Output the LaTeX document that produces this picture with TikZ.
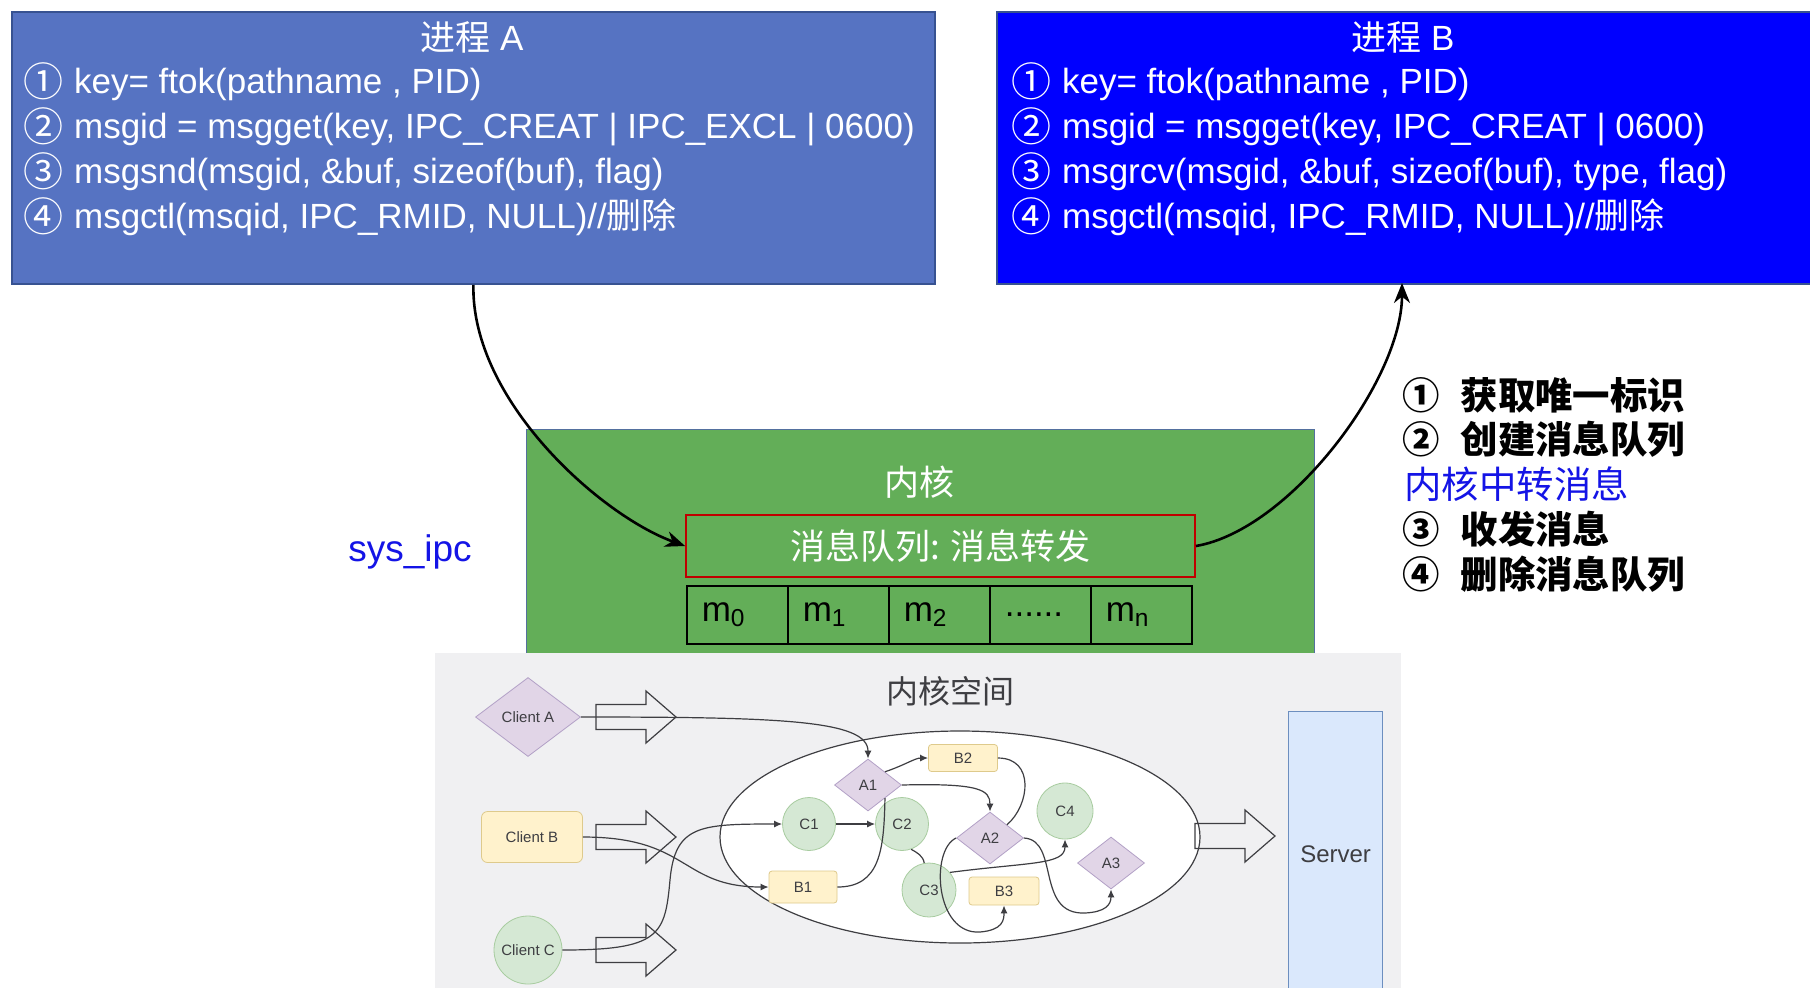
\documentclass[tikz,border=0pt]{standalone}
\usepackage{fontspec}
\setmainfont{Liberation Sans}
\newfontfamily\cjk{Noto Sans CJK SC}
\usetikzlibrary{arrows.meta,shapes.geometric,positioning}

\definecolor{procA}{RGB}{86,115,194}
\definecolor{procAedge}{RGB}{55,82,145}
\definecolor{procB}{RGB}{0,0,255}
\definecolor{kgreen}{RGB}{99,174,88}
\definecolor{kedge}{RGB}{84,112,158}
\definecolor{qred}{RGB}{192,0,0}
\definecolor{shotbg}{RGB}{240,240,242}
\definecolor{dpurple}{RGB}{225,213,231}
\definecolor{dpurpleedge}{RGB}{178,160,198}
\definecolor{dyellow}{RGB}{255,242,204}
\definecolor{dyellowedge}{RGB}{222,202,140}
\definecolor{dgreen}{RGB}{213,232,212}
\definecolor{dgreenedge}{RGB}{168,204,160}
\definecolor{dblue}{RGB}{218,232,252}
\definecolor{dblueedge}{RGB}{108,142,191}
\definecolor{dtext}{RGB}{62,62,66}
\definecolor{ipcblue}{RGB}{20,20,230}

\newcommand\qdots{......}
\newcommand\cnum[1]{\raisebox{-1.5pt}{\cjk\fontsize{20}{20}\selectfont #1}\hspace{0.5pt}}

\tikzset{
  procbox/.style={draw=procAedge, line width=0.9pt, minimum height=136pt, anchor=north west, inner sep=0pt},
  boxtitle/.style={anchor=base, text=white, inner sep=0pt, font=\fontsize{17.5}{20}\selectfont},
  boxline/.style={anchor=base west, text=white, inner sep=0pt, font=\fontsize{17.5}{20}\selectfont},
  qcell/.style={draw=black, line width=0.8pt, minimum width=50.5pt, minimum height=29pt, text width=35.5pt, inner xsep=7.5pt, align=left, anchor=north west, font=\fontsize{17.5}{20}\selectfont},
  listline/.style={anchor=base west, inner sep=0pt, font=\cjk\bfseries\fontsize{18.7}{22}\selectfont},
  bigarrow/.style={line width=1.3pt, -{Stealth[length=10pt,width=8pt]}},
  dmd/.style={diamond, draw=dpurpleedge, fill=dpurple, inner sep=0pt, text=dtext, font=\fontsize{7.5}{8}\selectfont},
  ybox/.style={rectangle, rounded corners=1.5pt, draw=dyellowedge, fill=dyellow, inner sep=0pt, text=dtext, font=\fontsize{7.5}{8}\selectfont},
  gcirc/.style={circle, draw=dgreenedge, fill=dgreen, inner sep=0pt, text=dtext, font=\fontsize{7.5}{8}\selectfont},
  lnk/.style={draw=dtext, line width=0.6pt},
  endtip/.style={-{Latex[length=4pt,width=3.5pt]}},
  blockarr/.pic={\draw[dtext, line width=0.6pt] (-40,-12.5) -- (10,-12.5) -- (10,-26) -- (40,0) -- (10,26) -- (10,12.5) -- (-40,12.5) -- cycle;}
}

\begin{document}
\begin{tikzpicture}[x=0.5pt,y=-0.5pt]
  \path[use as bounding box, fill=white] (0,0) rectangle (1810,987);

  % process boxes
  \node[procbox, fill=procA, minimum width=461.5pt] (pa) at (11,11) {};
  \node[procbox, fill=procB, minimum width=408pt] (pb) at (996,11) {};
  \coordinate (pbin) at (1402,283);

  \node[boxtitle] (ta) at (472,50) {{\cjk 进程} A};
  \node[boxline] (a1) at (23,93) {\cnum{①} key= ftok(pathname , PID)};
  \node[boxline] (a2) at (23,138) {\cnum{②} msgid = msgget(key, IPC\_CREAT | IPC\_EXCL | 0600)};
  \node[boxline] (a3) at (23,183) {\cnum{③} msgsnd(msgid, \&buf, sizeof(buf), flag)};
  \node[boxline] (a4) at (23,228) {\cnum{④} msgctl(msqid, IPC\_RMID, NULL)//{\cjk 删除}};

  \node[boxtitle] (tb) at (1403,50) {{\cjk 进程} B};
  \node[boxline] (b1) at (1011,93) {\cnum{①} key= ftok(pathname , PID)};
  \node[boxline] (b2) at (1011,138) {\cnum{②} msgid = msgget(key, IPC\_CREAT | 0600)};
  \node[boxline] (b3) at (1011,183) {\cnum{③} msgrcv(msgid, \&buf, sizeof(buf), type, flag)};
  \node[boxline] (b4) at (1011,228) {\cnum{④} msgctl(msqid, IPC\_RMID, NULL)//{\cjk 删除}};

  % kernel
  \node[draw=kedge, fill=kgreen, line width=0.7pt, minimum width=394pt, minimum height=112pt, anchor=north west, inner sep=0pt] (kern) at (526,429) {};
  \node[text=white, font=\cjk\fontsize{17.5}{20}\selectfont] (kt) at (919,482) {内核};
  \node[draw=qred, line width=0.9pt, minimum width=254.5pt, minimum height=31pt, text=white, font=\cjk\fontsize{17.5}{20}\selectfont] (mq) at (940.5,546) {消息队列: 消息转发};
  \foreach \i/\t in {0/m\textsubscript{0}, 1/m\textsubscript{1}, 2/m\textsubscript{2}, 3/\qdots, 4/m\textsubscript{n}}
    \node[qcell] (m\i) at (686+101*\i,585) {\t};

  \node[text=ipcblue, font=\fontsize{18.5}{22}\selectfont] (sys) at (410,552) {sys\_ipc};

  \node[listline] (s1) at (1402,409) {①\hspace{10.5pt}获取唯一标识};
  \node[listline] (s2) at (1402,453) {②\hspace{10.5pt}创建消息队列};
  \node[listline, font=\cjk\mdseries\fontsize{18.7}{22}\selectfont, text=ipcblue] (s3) at (1404,498) {内核中转消息};
  \node[listline] (s4) at (1402,543) {③\hspace{10.5pt}收发消息};
  \node[listline] (s5) at (1402,588) {④\hspace{10.5pt}删除消息队列};

  % kernel space screenshot
  \fill[shotbg] (435,653) rectangle (1401,990);
  \node[text=dtext, font=\cjk\fontsize{16}{18}\selectfont] (kspt) at (950,691) {内核空间};
  \node[ellipse, draw=dtext, fill=white, line width=0.6pt, minimum width=240pt, minimum height=106pt] (ksp) at (960,837) {};
  \node[draw=dblueedge, fill=dblue, line width=0.6pt, minimum width=47pt, minimum height=143pt, anchor=north west, inner sep=0pt, text=dtext, font=\fontsize{12}{14}\selectfont] (srv) at (1288,711) {Server};

  \pic (pka) at (636,717) {blockarr};
  \pic (pkb) at (636,837) {blockarr};
  \pic (pkc) at (636,950) {blockarr};
  \pic (pks) at (1235,836) {blockarr};

  \node[dmd, minimum width=52.5pt, minimum height=39.5pt] (ca) at (528,717) {Client A};
  \node[ybox, rounded corners=3pt, minimum width=50.5pt, minimum height=25.5pt] (cb) at (532,837) {Client B};
  \node[gcirc, minimum size=34pt] (cc) at (528,950) {Client C};

  \node[dmd, minimum width=33.5pt, minimum height=26pt] (na1) at (868,785) {A1};
  \node[dmd, minimum width=33.5pt, minimum height=26pt] (na2) at (990,838) {A2};
  \node[dmd, minimum width=33.5pt, minimum height=26pt] (na3) at (1111,863) {A3};
  \node[ybox, minimum width=34pt, minimum height=16pt] (nb1) at (803,887) {B1};
  \node[ybox, minimum width=34.5pt, minimum height=13.5pt] (nb2) at (963,758) {B2};
  \node[ybox, minimum width=35pt, minimum height=14pt] (nb3) at (1004,891) {B3};
  \node[gcirc, minimum size=26.5pt] (nc1) at (809,824) {C1};
  \node[gcirc, minimum size=26.5pt] (nc2) at (902,824) {C2};
  \node[gcirc, minimum size=27pt] (nc3) at (929,890) {C3};
  \node[gcirc, minimum size=28pt] (nc4) at (1065,811) {C4};

  \draw[lnk, endtip] (ca.east) .. controls (780,717) and (868,720) .. (na1.north);
  \draw[lnk, endtip] (cb.east) .. controls (690,837) and (680,887) .. (nb1.west);
  \draw[lnk, endtip] (cc.east) .. controls (660,950) and (665,935) .. (670,880) .. controls (675,825) and (700,824) .. (nc1.west);
  \draw[lnk, endtip] (nc1) -- (nc2);
  \draw[lnk, endtip] (na1.north east) .. controls (905,765) and (915,758) .. (nb2.west);
  \draw[lnk, endtip] (na1.east) .. controls (980,783) and (990,790) .. (na2.north);
  \draw[lnk] (nb2.east) .. controls (1035,758) and (1030,805) .. (na2.north east);
  \draw[lnk] (nb1.east) .. controls (880,887) and (884,850) .. (na1.south east);
  \draw[lnk] (nc2.-70) to[out=-30,in=100] (nc3.100);
  \draw[lnk, endtip] (nc3.40) .. controls (1030,862) and (1065,865) .. (nc4.south);
  \draw[lnk, endtip] (na2.west) .. controls (930,850) and (935,935) .. (980,932) .. controls (1003,930) and (1004,920) .. (nb3.south);
  \draw[lnk, endtip] (na2.east) .. controls (1060,840) and (1035,915) .. (1085,913) .. controls (1105,912) and (1111,905) .. (na3.south);

  % main flow
  \draw[bigarrow] (pa.south) .. controls (471,400) and (600,515) .. (mq.west);
  \draw[bigarrow] (mq.east) .. controls (1290,530) and (1402,380) .. (pbin);
\end{tikzpicture}
\end{document}
